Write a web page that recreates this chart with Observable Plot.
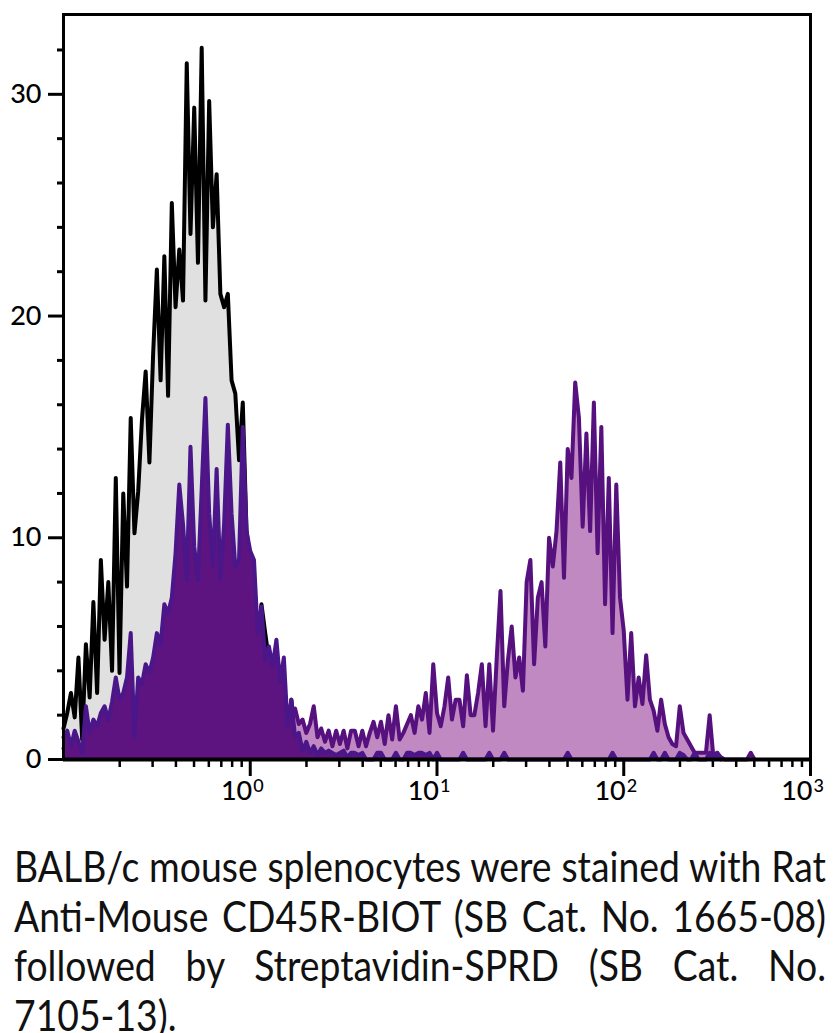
<!DOCTYPE html>
<html>
<head>
<meta charset="utf-8">
<script src="https://cdn.jsdelivr.net/npm/d3@7"></script>
<script src="https://cdn.jsdelivr.net/npm/@observablehq/plot@0.6"></script>
<style>
  html, body { margin: 0; padding: 0; background: #fff; }
  body { width: 840px; height: 1033px; overflow: hidden; position: relative; font-family: Lato, "Open Sans", sans-serif; }
  #chart svg { display: block; }
  #caption { position: absolute; left: 14px; top: 842px; font-family: Lato, sans-serif; font-size: 42px; line-height: 49.5px; color: #111; }
  .ln { transform-origin: 0 0; white-space: normal; }
</style>
</head>
<body>
<div id="chart"></div>
<div id="caption"></div>
<script>
// Histogram channel grid: log10 position of channel 0 and channel width (log10 units)
const logStart = -1;
const logStep = 0.02;

// Control (isotype) histogram, channels 0..65
const control = [1.4,2.1,3.0,1.9,4.6,0.9,5.2,2.8,7.1,3.0,
  9.0,5.4,8.0,4.0,12.7,3.9,12.0,7.8,15.4,10.2,
  12.1,15.3,17.5,13.4,18.3,22.1,17.1,22.7,16.4,25.1,
  20.4,23.0,20.7,31.4,23.7,29.4,22.4,32.1,20.7,29.7,
  24.0,26.4,21.0,20.4,21.0,17.1,16.5,13.5,16.1,10.3,
  9.0,4.5,5.5,7.0,5.7,4.5,3.5,3.0,2.0,1.5,
  1.0,2.7,1.2,0.5,0.2,0];

// Stained sample, negative gate (dark fill), channels 0..176
const stainedNeg = [1.0,1.3,0.6,1.3,0.8,0.3,2.4,1.2,1.8,1.5,
  2.1,2.4,1.8,2.6,3.7,2.7,3.0,3.7,5.7,1.0,
  3.7,3.4,4.3,3.9,4.6,5.7,5.2,7.0,6.6,7.3,
  9.3,12.4,10.6,8.1,14.1,9.6,8.1,12.2,16.3,11.1,
  8.7,13.1,8.1,10.6,15.1,11.1,8.7,9.0,15.0,10.3,
  9.4,9.0,5.7,6.9,4.5,5.1,4.2,5.4,3.5,4.6,
  1.5,2.7,1.0,1.2,0.4,0.8,0.3,0.6,0.2,0.5,
  0.3,0.4,0.3,0.2,0.3,0.4,0.1,0.3,0.3,0.2,
  0.3,0,0,0,0.3,0.3,0,0,0,0.3,
  0,0,0.3,0.3,0.2,0.3,0.3,0.2,0.3,0,
  0.3,0,0,0,0,0,0,0.3,0,0,
  0,0,0,0,0.3,0,0,0,0.3,0,
  0,0,0,0,0,0,0,0,0,0,
  0,0,0,0,0,0.3,0,0,0,0,
  0,0,0,0,0,0,0,0.3,0,0,
  0,0,0,0,0,0,0,0,0.3,0,
  0,0.3,0,0,0,0.3,0.2,0,0,0.3,
  0,0,0,0.3,0,0.3,0];

// Stained sample, positive gate (light fill), channels 0..185
const stainedPos = [0.5,0.6,0.4,0.7,0.5,0.2,0.8,0.6,0.9,0.7,
  1.0,1.1,0.9,1.2,1.4,1.3,1.5,1.6,1.8,0.9,
  1.9,2.0,2.2,2.1,2.4,2.6,2.5,2.9,3.0,3.2,
  3.4,3.6,3.5,3.8,3.9,3.7,4.0,4.1,4.0,4.2,
  4.1,4.0,4.2,4.3,4.1,4.0,4.2,3.9,4.0,3.8,
  3.9,3.6,3.9,4.1,3.5,3.2,3.7,2.9,3.1,2.8,
  2.2,1.9,2.3,1.6,1.8,1.2,1.6,2.4,1.0,1.4,
  0.8,1.3,0.6,1.3,0.7,1.3,0.5,1.3,1.3,0.6,
  1.3,0.6,1.2,1.7,1.0,1.7,0.7,2.0,0.9,2.4,
  0.9,1.2,1.6,2.0,1.2,2.4,1.8,3.0,1.2,4.3,
  2.1,1.5,2.4,3.7,1.8,2.7,2.7,1.5,3.8,2.0,
  2.0,3.0,4.3,1.5,4.3,1.3,4.6,7.6,2.4,4.5,
  6.0,3.7,4.6,3.1,8.0,9.0,4.3,7.3,8.0,5.1,
  10.0,8.7,10.3,13.4,8.2,14.0,12.7,17.0,15.4,10.5,
  14.7,10.3,16.1,9.3,15.0,7.0,12.7,5.7,12.4,7.3,
  5.8,2.7,5.7,2.4,3.7,2.5,4.7,2.7,2.2,1.3,
  2.7,1.6,1.0,0.7,0.6,2.4,1.2,0.9,0.6,0.3,
  0.3,0.3,0.3,2.0,0.1,0.3,0.1,0,0,0,
  0,0,0,0,0.3,0];

// Axis ticks and labels
const yMajor = [0, 10, 20, 30];
const yMinor = [2, 4, 6, 8, 12, 14, 16, 18, 22, 24, 26, 28, 32];
const xMajor = [1, 10, 100, 1000];
const xExponent = ["0", "1", "2", "3"];
const xMinor = [0.2,0.3,0.4,0.5,0.6,0.7,0.8,0.9,
  2,3,4,5,6,7,8,9,
  20,30,40,50,60,70,80,90,
  200,300,400,500,600,700,800,900];

const captionLines = [
  "BALB/c mouse splenocytes were stained with Rat",
  "Anti-Mouse CD45R-BIOT (SB Cat. No. 1665-08)",
  "followed by Streptavidin-SPRD (SB Cat. No.",
  "7105-13)."
];

const rows = values => values.map((v, i) => ({ch: 10 ** (logStart + i * logStep), count: v}));
const ctrl = rows(control);
const neg = rows(stainedNeg);
const pos = rows(stainedPos);

const lineW = 4;

const chart = Plot.plot({
  width: 840,
  height: 830,
  marginLeft: 63,
  marginRight: 30,
  marginTop: 14,
  marginBottom: 71,
  x: {type: "log", domain: [0.1, 1000], label: null},
  y: {domain: [0, 33.6], label: null},
  style: {fontFamily: "Lato, sans-serif", color: "#000", background: "#fff"},
  marks: [
    Plot.areaY(ctrl, {x: "ch", y: "count", fill: "#e0e0e0"}),
    Plot.lineY(ctrl, {x: "ch", y: "count", stroke: "#000", strokeWidth: lineW}),
    Plot.areaY(pos, {x: "ch", y: "count", fill: "#c189c1"}),
    Plot.lineY(pos, {x: "ch", y: "count", stroke: "#56117f", strokeWidth: lineW}),
    Plot.areaY(neg, {x: "ch", y: "count", fill: "#5e1480"}),
    Plot.lineY(neg, {x: "ch", y: "count", stroke: "#4a168a", strokeWidth: lineW}),
    Plot.axisY(yMajor, {tickSize: 15, tickPadding: 7, fontSize: 27, fontWeight: 500, strokeWidth: 3, label: null}),
    Plot.axisY(yMinor, {tickSize: 6, fill: "none", strokeWidth: 3, label: null}),
    Plot.axisX(xMajor, {tickSize: 17, fill: "none", strokeWidth: 3, label: null}),
    Plot.axisX(xMinor, {tickSize: 8, fill: "none", strokeWidth: 2.5, label: null}),
    Plot.text(xMajor, {x: d => d, frameAnchor: "bottom", text: () => "10", dx: 2, dy: 40, textAnchor: "end", fontSize: 27, fontWeight: 500, fill: "#000"}),
    Plot.text(xMajor, {x: d => d, frameAnchor: "bottom", text: (d, i) => xExponent[i], dx: 3, dy: 32, textAnchor: "start", fontSize: 18, fontWeight: 500, fill: "#000"}),
    Plot.frame({stroke: "#000", strokeWidth: 3}),
    Plot.ruleY([0], {stroke: "#000", strokeWidth: 4})
  ]
});
document.getElementById("chart").appendChild(chart);

// Caption: justified lines, horizontally condensed to the reference's text width
const cap = document.getElementById("caption");
const targetWidth = 812;
const divs = captionLines.map(t => {
  const d = document.createElement("div");
  d.className = "ln";
  d.textContent = t;
  d.style.display = "inline-block";
  d.style.whiteSpace = "nowrap";
  cap.appendChild(d);
  return d;
});
const natural = divs.map(d => d.getBoundingClientRect().width);
const base = Math.max(...natural) + 2;
const s = targetWidth / base;
divs.forEach((d, i) => {
  d.style.display = "block";
  d.style.whiteSpace = "normal";
  d.style.width = base + "px";
  d.style.transform = `scaleX(${s})`;
  if (i < divs.length - 1) {
    d.style.textAlign = "justify";
    d.style.textAlignLast = "justify";
  } else {
    d.style.textAlign = "left";
  }
});
</script>
</body>
</html>
